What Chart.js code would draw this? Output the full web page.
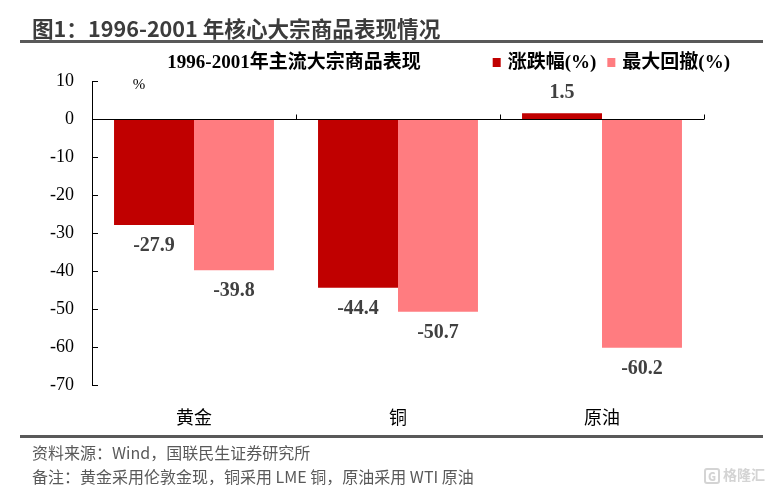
<!DOCTYPE html>
<html>
<head>
<meta charset="utf-8">
<script src="https://cdn.jsdelivr.net/npm/chart.js@4.4.1/dist/chart.umd.min.js"></script>
<style>
  html, body { margin: 0; padding: 0; background: #fff; }
  #wrap { position: relative; width: 774px; height: 491px; overflow: hidden; }
  #chart { position: absolute; left: 0; top: 0; }
  .head { position: absolute; left: 32px; top: 13px; font: bold 21.6px "Noto Sans CJK SC", sans-serif; color: #3c3c3c; line-height: 30px; white-space: nowrap; }
  .rule { position: absolute; left: 20px; width: 743px; height: 3px; background: #595959; }
  .note { position: absolute; left: 32px; font: 16px "Noto Sans CJK SC", sans-serif; color: #595959; white-space: nowrap; line-height: 20px; }
  .mark { position: absolute; left: 704px; top: 464px; font: bold 14px "Noto Sans CJK SC", sans-serif; color: #d4d4d4; white-space: nowrap; }
  .mark b { display: inline-block; border: 2px solid #d4d4d4; border-radius: 3px; width: 12px; height: 12px; line-height: 12px; font-size: 11px; text-align: center; margin-right: 3px; vertical-align: middle; }
</style>
</head>
<body>
<div id="wrap">
  <canvas id="chart" width="774" height="491"></canvas>
  <div class="head">图1：1996-2001 年核心大宗商品表现情况</div>
  <div class="rule" style="top:40px"></div>
  <div class="rule" style="top:435px"></div>
  <div class="note" style="top:442px">资料来源：Wind，国联民生证券研究所</div>
  <div class="note" style="top:466px">备注：黄金采用伦敦金现，铜采用 LME 铜，原油采用 WTI 原油</div>
  <div class="mark"><b>G</b>格隆汇</div>
</div>
<script>
// data
const categories = ['黄金', '铜', '原油'];
const changePct = [-27.9, -44.4, 1.5];      // 涨跌幅(%)
const maxDrawdown = [-39.8, -50.7, -60.2];  // 最大回撤(%)
const seriesNames = ['涨跌幅(%)', '最大回撤(%)'];
const chartTitle = '1996-2001年主流大宗商品表现';
const yMin = -70, yMax = 10, yStep = 10;

const SERIF = '"Liberation Serif", "Noto Sans CJK SC", serif';
const darkRed = '#C00000';
const pink = '#FF7C80';

// extra drawing: title, legend, zero line, inside ticks, value labels
const extras = {
  id: 'extras',
  afterDraw(chart) {
    const ctx = chart.ctx;
    const area = chart.chartArea;
    const y = chart.scales.y;
    ctx.save();
    ctx.strokeStyle = '#000';
    ctx.lineWidth = 1;

    // small ticks inside the y axis
    y.ticks.forEach(t => {
      const py = Math.round(y.getPixelForValue(t.value)) + 0.5;
      ctx.beginPath();
      ctx.moveTo(area.left, py);
      ctx.lineTo(area.left + 6, py);
      ctx.stroke();
    });

    // category axis at zero, ticks pointing up
    const y0 = Math.round(y.getPixelForValue(0)) + 0.5;
    ctx.beginPath();
    ctx.moveTo(area.left, y0);
    ctx.lineTo(area.right, y0);
    const n = categories.length;
    for (let i = 1; i <= n; i++) {
      const px = Math.round(area.left + i * (area.right - area.left) / n) + 0.5;
      ctx.moveTo(px, y0);
      ctx.lineTo(px, y0 - 5);
    }
    ctx.stroke();

    // value labels
    ctx.fillStyle = '#404040';
    ctx.font = 'bold 20px ' + SERIF;
    ctx.textAlign = 'center';
    ctx.textBaseline = 'middle';
    chart.data.datasets.forEach((ds, di) => {
      chart.getDatasetMeta(di).data.forEach((bar, i) => {
        const v = ds.data[i];
        const ly = v < 0 ? bar.y + 21 : bar.y - 20;
        ctx.fillText(v.toFixed(1), bar.x, ly);
      });
    });

    // % unit
    ctx.fillStyle = '#000';
    ctx.font = '15px ' + SERIF;
    ctx.fillText('%', 139, 85);

    // inner title
    ctx.font = 'bold 19px ' + SERIF;
    ctx.fillText(chartTitle, 294, 63);

    // legend, right aligned
    ctx.font = 'bold 19px ' + SERIF;
    ctx.textAlign = 'left';
    const items = chart.data.datasets.map(ds => ({ text: ds.label, color: ds.backgroundColor, w: ctx.measureText(ds.label).width }));
    let total = 0;
    items.forEach((it, i) => { total += 8 + 7 + it.w + (i < items.length - 1 ? 11 : 0); });
    let lx = 730 - total;
    items.forEach(it => {
      ctx.fillStyle = it.color;
      ctx.fillRect(lx, 58, 8, 9);
      ctx.fillStyle = '#000';
      ctx.fillText(it.text, lx + 15, 63);
      lx += 15 + it.w + 11;
    });
    ctx.restore();
  }
};

new Chart(document.getElementById('chart'), {
  type: 'bar',
  data: {
    labels: categories,
    datasets: [
      { label: seriesNames[0], data: changePct, backgroundColor: darkRed },
      { label: seriesNames[1], data: maxDrawdown, backgroundColor: pink }
    ]
  },
  options: {
    responsive: false,
    animation: false,
    devicePixelRatio: 1,
    layout: { padding: { top: 81, right: 70, bottom: 0, left: 0 } },
    datasets: { bar: { categoryPercentage: 0.784, barPercentage: 1.0 } },
    plugins: {
      legend: { display: false },
      title: { display: false },
      tooltip: { enabled: false }
    },
    scales: {
      x: {
        grid: { display: false },
        border: { display: false },
        ticks: { color: '#000', font: { family: SERIF, size: 18 }, padding: 15 },
        afterFit: s => { s.height = 106; }
      },
      y: {
        min: yMin, max: yMax,
        grid: { display: false, drawTicks: false },
        border: { display: true, color: '#000', width: 1 },
        ticks: { stepSize: yStep, color: '#000', font: { family: SERIF, size: 18 }, padding: 18 },
        afterFit: s => { s.width = 92; }
      }
    }
  },
  plugins: [extras]
});
</script>
</body>
</html>
